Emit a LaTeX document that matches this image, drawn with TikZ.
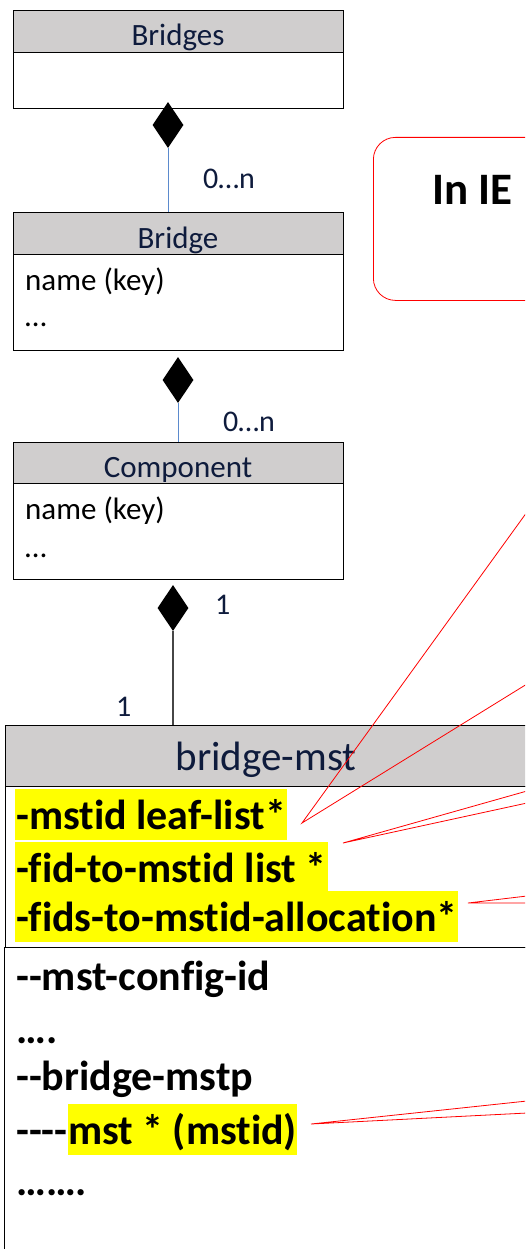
\documentclass[tikz,border=0pt]{standalone}
\usepackage{fontspec}
\setmainfont{Carlito}[Ligatures={TeXOff,NoCommon}]
\usetikzlibrary{shapes.geometric}
\definecolor{navy}{RGB}{14,27,60}
\definecolor{hdrgray}{RGB}{208,206,206}
\definecolor{linkblue}{RGB}{91,138,205}
\definecolor{linkgray}{RGB}{70,70,70}
\definecolor{hlyellow}{RGB}{255,255,0}
\definecolor{callred}{RGB}{255,0,0}
\begin{document}
\begin{tikzpicture}[x=1pt,y=-1pt,
  hdr/.style={draw=black, line width=1.3pt, fill=hdrgray, anchor=north west, inner sep=0},
  bodybox/.style={draw=black, line width=1.3pt, fill=white, anchor=north west, inner sep=0},
  hdrtext/.style={font=\fontsize{31}{31}\selectfont, text=navy, anchor=base, inner sep=0},
  attr/.style={font=\fontsize{31}{31}\selectfont, text=black, anchor=base west, inner sep=0},
  mult/.style={font=\fontsize{30}{30}\selectfont, text=navy, anchor=base west, inner sep=0},
  dia/.style={diamond, fill=black, draw=none, inner sep=0, minimum width=31pt, minimum height=46pt},
  bluelink/.style={draw=linkblue, line width=1pt},
  graylink/.style={draw=linkgray, line width=1.4pt},
  bigtext/.style={font=\fontsize{42}{42}\selectfont\bfseries, text=black, anchor=base west, inner sep=0},
  hl/.style={bigtext, fill=hlyellow, text height=40pt, text depth=11pt, inner xsep=1pt},
  callout/.style={draw=callred, line width=0.8pt},
]
\useasboundingbox (0,0) rectangle (525,1249);
\clip (0,0) rectangle (525,1249);

% Bridges
\node[hdr, minimum width=330pt, minimum height=42pt] (bridgesH) at (13,10) {};
\node[bodybox, minimum width=330pt, minimum height=56pt] (bridgesB) at (13,52) {};
\node[hdrtext] (bridgesT) at (178,46) {Bridges};

% diamond 1
\node[dia] (d1) at (168,125) {};

% Bridge
\node[hdr, minimum width=330pt, minimum height=42pt] (bridgeH) at (13,212) {};
\node[bodybox, minimum width=330pt, minimum height=96pt] (bridgeB) at (13,254) {};
\node[hdrtext] (bridgeT) at (178,248) {Bridge};
\node[attr] (bridgeA1) at (25,290) {name (key)};
\node[attr] (bridgeA2) at (25,326) {…};
\draw[bluelink] (d1.south) -- (d1.south |- bridgeH.north);
\node[mult] (m1) at (203,189) {0…n};

% diamond 2
\node[dia] (d2) at (178,380) {};

% Component
\node[hdr, minimum width=330pt, minimum height=41pt] (compH) at (13,442) {};
\node[bodybox, minimum width=330pt, minimum height=96pt] (compB) at (13,483) {};
\node[hdrtext] (compT) at (178,477) {Component};
\node[attr] (compA1) at (25,519) {name (key)};
\node[attr] (compA2) at (25,557) {…};
\draw[bluelink] (d2.south) -- (d2.south |- compH.north);
\node[mult] (m2) at (223,431) {0…n};

% diamond 3
\node[dia] (d3) at (173,608) {};
\node[mult] (m3) at (215,614) {1};
\node[mult] (m4) at (116,716) {1};

% bridge-mst
\node[hdr, minimum width=522pt, minimum height=61pt] (mstH) at (5,725) {};
\node[bodybox, minimum width=522pt, minimum height=161pt] (mstA) at (5,786) {};
\node[bodybox, minimum width=523pt, minimum height=330pt] (mstL) at (4,947) {};
\draw[graylink] (d3.south) -- (d3.south |- mstH.north);
\node[hdrtext, font=\fontsize{41}{41}\selectfont] (mstT) at (266,770) {bridge-mst};

\node[hl] (a1) at (15,829) {-mstid leaf-list*};
\node[hl] (a2) at (15,882) {-fid-to-mstid list *};
\node[hl] (a3) at (15,931) {-fids-to-mstid-allocation*};

\node[bigtext] (b1) at (16,990) {--mst-config-id};
\node[bigtext] (b2) at (16,1043) {….};
\node[bigtext] (b3) at (16,1090) {--bridge-mstp};
\node[bigtext] (b4) at (16,1144) {----};
\node[hl, anchor=base west, inner xsep=0pt] (b4h) at (b4.base east) {mst * (mstid)};
\node[bigtext] (b5) at (16,1195) {…….};

% note box
\node[draw=callred, line width=0.8pt, rounded corners=22pt, minimum width=200pt, minimum height=163pt, anchor=north west, inner sep=0] (note) at (373,137) {};
\node[font=\fontsize{45}{45}\selectfont\bfseries, anchor=base west, inner sep=0] (noteT) at (432,205) {In IE};

% callouts
\coordinate (t1) at (302,823);
\coordinate (e1a) at (527,512);
\coordinate (e1b) at (527,684);
\coordinate (t2) at (343,843);
\coordinate (e2a) at (527,791);
\coordinate (e2b) at (527,803);
\coordinate (t3) at (468,903);
\coordinate (e3a) at (527,896);
\coordinate (e3b) at (527,903);
\coordinate (t4) at (311,1124);
\coordinate (e4a) at (527,1101);
\coordinate (e4b) at (527,1113);
\draw[callout] (e1a) -- (t1) -- (e1b);
\draw[callout] (e2a) -- (t2) -- (e2b);
\draw[callout] (e3a) -- (t3) -- (e3b);
\draw[callout] (e4a) -- (t4) -- (e4b);
\end{tikzpicture}
\end{document}
